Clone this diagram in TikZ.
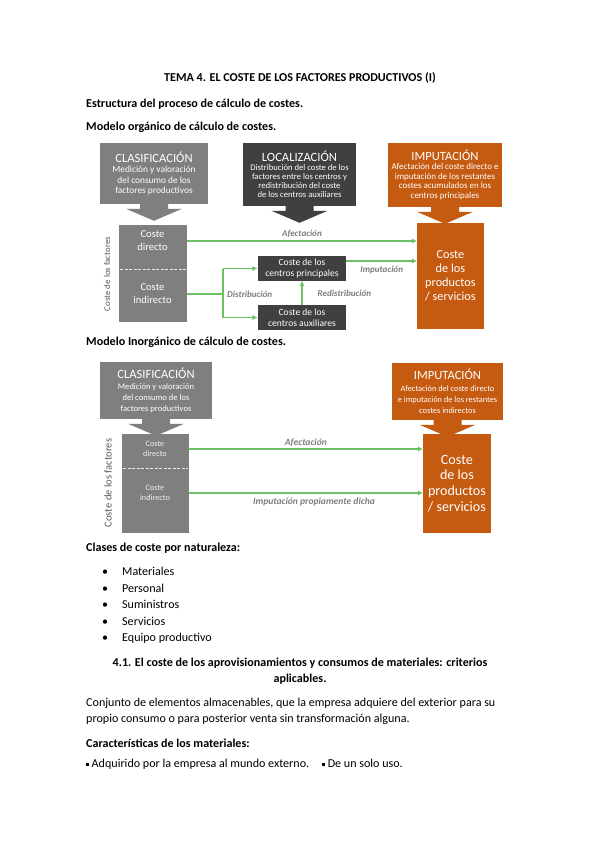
\documentclass[tikz,border=0pt]{standalone}
\usepackage{fontspec}
\setmainfont{Carlito}
\usetikzlibrary{arrows.meta, positioning, calc}
\definecolor{clasgris}{RGB}{127,127,127}
\definecolor{locgris}{RGB}{64,64,64}
\definecolor{impnaranja}{RGB}{197,90,17}
\definecolor{flujoverde}{RGB}{108,192,100}
\definecolor{textogris}{RGB}{89,89,89}

\begin{document}
\begin{tikzpicture}[x=0.9938pt, y=-0.9938pt]
        \tikzset{
          parrafo/.style={anchor=base west, inner sep=0pt,
                 font=\fontsize{12}{14}\selectfont},
          negrita/.style={parrafo, font=\fontsize{12}{14}\selectfont\bfseries},
          catbox/.style={anchor=north, inner sep=0pt, align=flush center,
                 text=white},
          cajagris/.style={fill=clasgris, inner sep=0pt},
          centrobox/.style={fill=locgris, text=white, inner sep=0pt,
                 align=center, minimum width=88, minimum height=24,
                 font=\fontsize{9.5}{11.5}\selectfont},
          flujo/.style={draw=flujoverde, line width=1.2pt,
                 -{Latex[length=5pt, width=5pt]}},
          linea/.style={draw=flujoverde, line width=1.2pt},
          flujolabel/.style={text=clasgris, inner sep=0pt,
                 font=\fontsize{9}{11}\selectfont\bfseries\itshape},
          corte/.style={draw=white!85!clasgris, dashed, line width=0.8pt,
                 dash pattern=on 3pt off 1.5pt},
          cabeza/.pic={\fill (-14,-1) -- (14,-1) -- (14,5) -- (28,5)
                 -- (0,17) -- (-28,5) -- (-14,5) -- cycle;}
        }
        \useasboundingbox[fill=white] (0,0) rectangle (599,848);

        \node[negrita, anchor=base] (titulo) at (300,81)
          {TEMA 4. EL COSTE DE LOS FACTORES PRODUCTIVOS (I)};
        \node[negrita] (estructura) at (86,107)
          {Estructura del proceso de cálculo de costes.};
        \node[negrita] (organico) at (86,130)
          {Modelo orgánico de cálculo de costes.};

        % modelo organico
        \node[catbox, fill=clasgris, minimum width=108, minimum height=60,
              text width=106] (clasA) at (154,143)
          {{\fontsize{12.5}{15}\selectfont CLASIFICACIÓN\par}
           \fontsize{9.3}{10.3}\selectfont Medición y valoración\\del consumo de los\\factores productivos\par};
        \node[catbox, fill=locgris, minimum width=113, minimum height=62,
              text width=112] (locA) at (299.5,143)
          {{\fontsize{12.5}{15}\selectfont LOCALIZACIÓN\par}
           \fontsize{8.6}{9}\selectfont Distribución del coste de los\\factores entre los centros y\\redistribución del coste\\de los centros auxiliares\par};
        \node[catbox, fill=impnaranja, minimum width=114, minimum height=63,
              text width=114] (impA) at (445,143)
          {{\fontsize{12.5}{15}\selectfont IMPUTACIÓN\par}
           \fontsize{8.9}{9.5}\selectfont Afectación del coste directo e\\imputación de los restantes\\costes acumulados en los\\centros principales\par};
        \pic[color=clasgris] at (clasA.south) {cabeza};
        \pic[color=locgris] at (locA.south) {cabeza};
        \pic[color=impnaranja] at (impA.south) {cabeza};

        \node[cajagris, minimum width=67, minimum height=96, anchor=north west]
          (costeA) at (119,225) {};
        \node[text=white, align=center, inner sep=0pt,
              font=\fontsize{10.5}{13}\selectfont] (directoA) at (152.5,240.5)
          {Coste\\directo};
        \node[text=white, align=center, inner sep=0pt,
              font=\fontsize{10.5}{13}\selectfont] (indirectoA) at (152.5,294)
          {Coste\\indirecto};
        \coordinate (cortA) at (0,269);
        \draw[corte] ($(cortA -| costeA.west)+(1,0)$) -- ($(cortA -| costeA.east)+(-1,0)$);
        \node[rotate=90, text=textogris, inner sep=0pt,
              font=\fontsize{8.8}{10}\selectfont] (factA) at (107,274)
          {Coste de los factores};

        \node[fill=impnaranja, text=white, align=center, inner sep=0pt,
              minimum width=66, minimum height=105, anchor=north west,
              font=\fontsize{12.2}{14}\selectfont] (prodA) at (417,223)
          {Coste\\de los\\productos\\/ servicios};
        \node[centrobox] (princA) at (302,268.5) {Coste de los\\centros principales};
        \node[centrobox] (auxA) at (302,317.5) {Coste de los\\centros auxiliares};

        \draw[flujo] (costeA.east |- 0,241) -- (prodA.west |- 0,241)
          node[flujolabel, midway, above=3pt] {Afectación};
        \coordinate (impoA) at ($(princA.east)+(0,-7.5)$);
        \draw[flujo] (impoA) -- (impoA -| prodA.west)
          node[flujolabel, midway, below=5pt] {Imputación};
        \coordinate (splitA) at (223,294);
        \draw[linea] (indirectoA -| costeA.east) -- (splitA);
        \draw[linea] (splitA |- princA) -- (splitA |- auxA);
        \draw[flujo] (splitA |- princA) -- (princA.west);
        \draw[flujo] (splitA |- auxA) -- (auxA.west);
        \node[flujolabel, right=4pt of splitA] (distA) {Distribución};
        \draw[flujo] (auxA.north) -- (princA.south)
          node[flujolabel, midway, right=15pt] {Redistribución};

        % modelo inorganico
        \node[negrita] (inorganico) at (86,345)
          {Modelo Inorgánico de cálculo de costes.};
        \node[catbox, fill=clasgris, minimum width=112, minimum height=56,
              text width=108] (clasB) at (156,362)
          {{\fontsize{12.5}{14}\selectfont CLASIFICACIÓN\par}
           \fontsize{8.5}{11}\selectfont Medición y valoración\\del consumo de los\\factores productivos\par};
        \node[catbox, fill=impnaranja, minimum width=111, minimum height=56,
              text width=110] (impB) at (447.5,363)
          {{\fontsize{12.5}{14}\selectfont IMPUTACIÓN\par}
           \fontsize{8.3}{11}\selectfont Afectación del coste directo\\e imputación de los restantes\\costes indirectos\par};
        \pic[color=clasgris] at (clasB.south) {cabeza};
        \pic[color=impnaranja] at (impB.south) {cabeza};

        \node[cajagris, minimum width=66, minimum height=98, anchor=north west]
          (costeB) at (122,434) {};
        \node[text=white!88!clasgris, align=center, inner sep=0pt,
              font=\fontsize{8.2}{10.5}\selectfont] (directoB) at (155,449)
          {Coste\\directo};
        \node[text=white!88!clasgris, align=center, inner sep=0pt,
              font=\fontsize{8.2}{10.5}\selectfont] (indirectoB) at (155,493)
          {Coste\\indirecto};
        \coordinate (cortB) at (0,468);
        \draw[corte] ($(cortB -| costeB.west)+(1,0)$) -- ($(cortB -| costeB.east)+(-1,0)$);
        \node[rotate=90, text=textogris, inner sep=0pt,
              font=\fontsize{10.5}{12}\selectfont] (factB) at (108,483)
          {Coste de los factores};

        \node[fill=impnaranja, text=white, align=center, inner sep=0pt,
              minimum width=67, minimum height=98, anchor=north west,
              font=\fontsize{14}{15.5}\selectfont] (prodB) at (423,434)
          {Coste\\de los\\productos\\/ servicios};

        \draw[flujo] (directoB -| costeB.east) -- (directoB -| prodB.west)
          node[flujolabel, midway, above=2pt,
               font=\fontsize{9.5}{11}\selectfont\bfseries\itshape] {Afectación};
        \draw[flujo] (indirectoB -| costeB.east) -- (indirectoB -| prodB.west)
          node[flujolabel, midway, below=4pt, xshift=8pt,
               font=\fontsize{9.5}{11}\selectfont\bfseries\itshape] {Imputación propiamente dicha};

        % texto
        \node[negrita] (clases) at (86,551) {Clases de coste por naturaleza:};
        \foreach \clase [count=\i] in {Materiales, Personal, Suministros,
                 Servicios, Equipo productivo} {
          \node[parrafo] (punto\i) at (102,{559.5+16.4*\i}) {\textbullet};
          \node[parrafo] (clase\i) at (122,{559.5+16.4*\i}) {\clase};
        }
        \node[negrita, anchor=base] (apartado) at (300,666)
          {4.1. El coste de los aprovisionamientos y consumos de materiales: criterios};
        \node[negrita, anchor=base] (apartado2) at (300,682) {aplicables.};
        \node[parrafo] (conjunto) at (86,706)
          {Conjunto de elementos almacenables, que la empresa adquiere del exterior para su};
        \node[parrafo] (conjunto2) at (86,722)
          {propio consumo o para posterior venta sin transformación alguna.};
        \node[negrita] (caract) at (86,747) {Características de los materiales:};
        \node[parrafo] (rasgo1) at (86,767)
          {\rule[1.5pt]{2.8pt}{2.8pt} Adquirido por la empresa al mundo externo.};
        \node[parrafo] (rasgo2) at (322,767)
          {\rule[1.5pt]{2.8pt}{2.8pt} De un solo uso.};
      \end{tikzpicture}
\end{document}
